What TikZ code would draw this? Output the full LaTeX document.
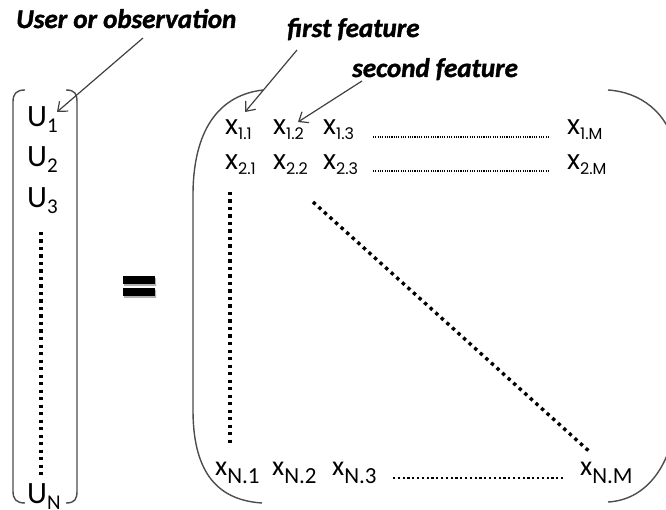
\documentclass[tikz,border=0pt]{standalone}
\usepackage{fontspec}
\setmainfont{Carlito}
\newfontfamily\geofont{Poppins}
\newfontfamily\labfont{Carlito}[UprightFont=* Bold Italic, UprightFeatures={FakeBold=1.4}]
\usetikzlibrary{arrows.meta}

% matrix entry x_{i.j}: geometric face for the upper rows, Carlito for the last one
\newcommand\geoent[1]{{\geofont\fontsize{27}{27}\selectfont x\raisebox{-5pt}{\fontsize{16}{16}\selectfont #1}}}
\newcommand\lastent[1]{{\fontsize{28}{28}\selectfont x\raisebox{-8pt}{\fontsize{23}{23}\selectfont #1}}}
\newcommand\uent[1]{{\fontsize{31}{31}\selectfont U\raisebox{-6pt}{\fontsize{21}{21}\selectfont #1}}}

\begin{document}
\begin{tikzpicture}[x=1pt,y=-1pt,
  lab/.style={font=\labfont\fontsize{27}{27}\selectfont, inner sep=0pt, anchor=base west},
  ent/.style={inner sep=0pt, anchor=base west},
  arr/.style={draw=black!75, line width=1.2pt, -{Straight Barb[length=8pt,width=13pt]}},
  brk/.style={draw=black!70, line width=1.4pt},
  bigdots/.style={line width=3.4pt, dash pattern=on 3.4pt off 4.1pt},
  finedots/.style={line width=1.1pt, dash pattern=on 1.1pt off 1.2pt},
  middots/.style={line width=2.2pt, dash pattern=on 2.2pt off 2.6pt}]
\useasboundingbox (0,0) rectangle (666,510);
\clip (0,0) rectangle (666,510);

% labels
\node[lab] (user)   at (16,28)  {User or observation};
\node[lab] (first)  at (287,37) {first feature};
\node[lab] (second) at (352,77) {second feature};

% column vector U
\node[ent] (u1) at (27,127) {\uent{1}};
\node[ent] (u2) at (27,167) {\uent{2}};
\node[ent] (u3) at (27,208) {\uent{3}};
\node[ent] (un) at (27,503) {\uent{N}};
\coordinate (udotA) at (41,232);
\coordinate (udotB) at (41,476);
\draw[bigdots] (udotA) -- (udotB);

% brackets of the vector
\draw[brk] (25,90) .. controls (16,90) and (13,94) .. (13,102) -- (13,491)
           .. controls (13,499) and (16,503) .. (25,503);
\draw[brk] (66,90) .. controls (75,90) and (77,94) .. (77,102) -- (77,491)
           .. controls (77,499) and (75,503) .. (66,503);

% equals sign
\fill[black!30] (124,278) rectangle (156,286) (124,290) rectangle (156,298);
\fill[black] (123,276) rectangle (155,284);
\fill[black] (123,288) rectangle (155,296);

% matrix entries
\node[ent] (x11) at (225,135) {\geoent{1.1}};
\node[ent] (x12) at (273,135) {\geoent{1.2}};
\node[ent] (x13) at (323,135) {\geoent{1.3}};
\node[ent] (x1m) at (567,135) {\geoent{1.M}};
\node[ent] (x21) at (225,170) {\geoent{2.1}};
\node[ent] (x22) at (273,170) {\geoent{2.2}};
\node[ent] (x23) at (323,170) {\geoent{2.3}};
\node[ent] (x2m) at (567,170) {\geoent{2.M}};
\node[ent] (xn1) at (215,475) {\lastent{N.1}};
\node[ent] (xn2) at (272,475) {\lastent{N.2}};
\node[ent] (xn3) at (332,475) {\lastent{N.3}};
\node[ent] (xnm) at (580,475) {\lastent{N.M}};

% ellipses inside the matrix
\coordinate (r1a) at (373,137); \coordinate (r1b) at (548,137);
\coordinate (r2a) at (373,171); \coordinate (r2b) at (548,171);
\coordinate (rna) at (393,478); \coordinate (rnb) at (563,478);
\draw[finedots] (r1a) -- (r1b);
\draw[finedots] (r2a) -- (r2b);
\draw[middots] (rna) -- (rnb);
\coordinate (vdA) at (230,192); \coordinate (vdB) at (230,444);
\draw[bigdots] (vdA) -- (vdB);
\coordinate (ddA) at (313,202); \coordinate (ddB) at (591,453);
\draw[bigdots] (ddA) -- (ddB);

% brackets of the matrix
\draw[brk] (263,90) .. controls (212,96) and (193,140) .. (193,195) -- (193,410)
           .. controls (193,468) and (214,500) .. (262,503);
\draw[brk] (608,90) .. controls (640,92) and (668,112) .. (676,150) -- (676,420)
           .. controls (670,468) and (645,500) .. (608,502);

% pointer arrows
\coordinate (userTail)   at (143,38);  \coordinate (userTip)   at (57,112);
\coordinate (firstTail)  at (297,50);  \coordinate (firstTip)  at (245,112);
\coordinate (secondTail) at (362,81);  \coordinate (secondTip) at (298,122);
\draw[arr] (userTail) -- (userTip);
\draw[arr] (firstTail) -- (firstTip);
\draw[arr] (secondTail) -- (secondTip);
\end{tikzpicture}
\end{document}
